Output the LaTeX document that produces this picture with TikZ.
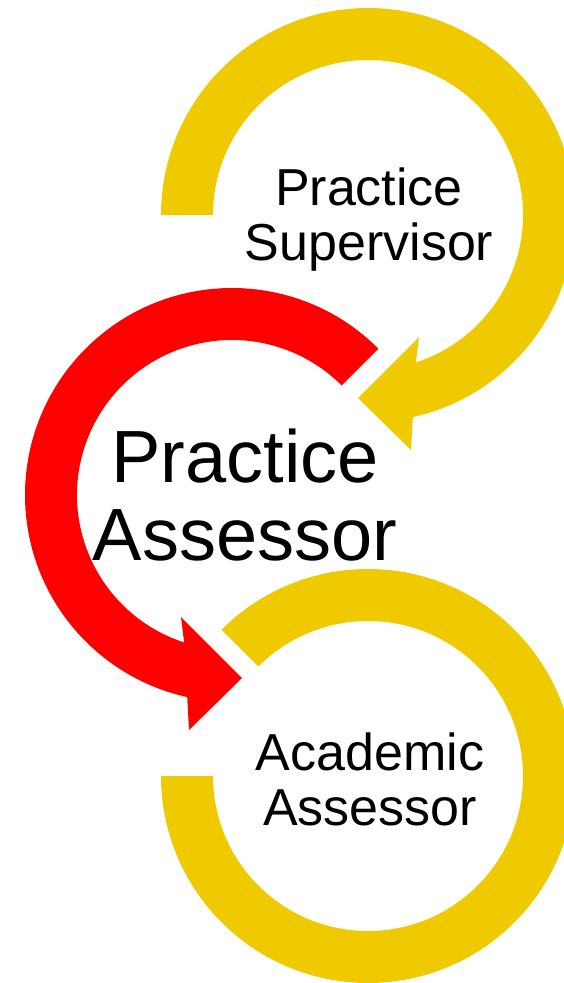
\documentclass[tikz,border=0pt]{standalone}
\usepackage{fontspec}
\setmainfont{Liberation Sans}
\definecolor{ringgold}{RGB}{240,202,0}
\definecolor{ringred}{RGB}{255,0,0}

\begin{document}
\begin{tikzpicture}[x=0.75pt,y=0.75pt]
    \useasboundingbox (0,0) rectangle (564,-983);
    \clip (0,0) rectangle (564,-983);
    % top ring, arrow into the assessor
    \begin{scope}[shift={(368,-215)}]
        \fill[ringgold] (180:207) arc[start angle=180,end angle=-77.5,radius=207]
            -- (43,-235) -- (-10,-183) -- (51,-122)
            -- (-72:155) arc[start angle=-72,end angle=180,radius=155] -- cycle;
    \end{scope}
    % middle ring, arrow into the academic
    \begin{scope}[shift={(232,-495)}]
        \fill[ringred] (45:207) arc[start angle=45,end angle=257.5,radius=207]
            -- (-43,-235) -- (10,-183) -- (-51,-122)
            -- (252:155) arc[start angle=252,end angle=45,radius=155] -- cycle;
    \end{scope}
    % bottom ring
    \begin{scope}[shift={(368,-776)}]
        \fill[ringgold] (135:207) arc[start angle=135,end angle=-180,radius=207]
            -- (180:155) arc[start angle=-180,end angle=135,radius=155] -- cycle;
    \end{scope}
    \begin{scope}[every node/.style={align=center,inner sep=0pt,anchor=base}]
        \node[font=\fontsize{39}{41}\selectfont] (ps) at (369,-260) {Practice\\Supervisor};
        \node[font=\fontsize{55.5}{57.8}\selectfont] (pa) at (245,-560) {Practice\\Assessor};
        \node[font=\fontsize{39}{41}\selectfont] (aa) at (370,-825) {Academic\\Assessor};
    \end{scope}
\end{tikzpicture}
\end{document}
